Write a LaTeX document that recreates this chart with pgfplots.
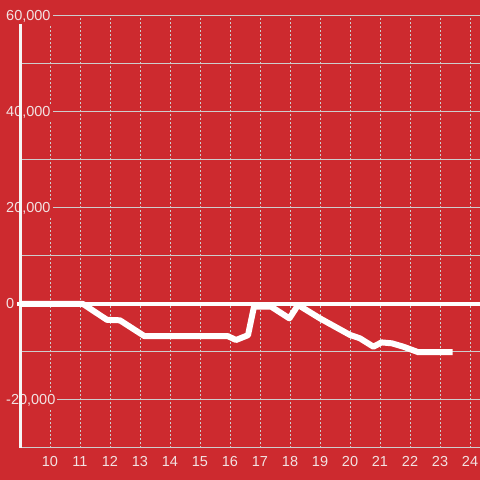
\documentclass[border=0pt]{standalone}
\usepackage{pgfplots}
\pgfplotsset{compat=1.18}
\usepackage{fontspec}
\setmainfont{Liberation Sans}
\definecolor{bgred}{RGB}{205,42,47}
\definecolor{lbl}{RGB}{242,226,226}
\definecolor{gridc}{RGB}{205,205,205}
\pgfdeclarelayer{background}
\pgfsetlayers{background,main}
\begin{document}
\begin{tikzpicture}[x=1pt,y=1pt]
\begin{axis}[
  scale only axis,
  width=460pt, height=432pt,
  xmin=9, xmax=24.3333,
  ymin=-30000, ymax=60000,
  clip=false,
  axis line style={draw=none},
  xtick={10,11,...,24},
  ytick={-20000,0,20000,40000,60000},
  minor ytick={-10000,10000,30000,50000},
  tick style={draw=none},
  major tick length=0pt, minor tick length=0pt,
  ymajorgrids, yminorgrids, xmajorgrids,
  y grid style={gridc, line width=1pt},
  minor y grid style={gridc, line width=1pt},
  x grid style={gridc, line width=1pt, dash pattern=on 2pt off 2pt},
  scaled y ticks=false,
  /pgf/number format/.cd, 1000 sep={,}, assume math mode=true,
  /pgfplots/.cd,
  ticklabel style={font=\fontsize{14.5}{16}\selectfont, text=lbl},
  yticklabel style={anchor=west, xshift=-16pt, fill=bgred, inner sep=2pt},
  xticklabel style={yshift=-5pt},
]
\draw[gridc, line width=1pt] (axis cs:9,-30000) -- (axis cs:24.3333,-30000);
\draw[white, line width=3.3pt] (axis cs:8.9,0) -- (axis cs:24.3333,0);
\draw[white!93!gray, line width=3pt] (axis cs:9,58333) -- (axis cs:9,-30000);
\addplot[white, line width=6pt, line join=round, line cap=butt] coordinates {
(9,0) (11.1,0) (11.9,-3300) (12.33,-3400) (13.15,-6700) (15.93,-6700)
(16.2,-7500) (16.6,-6500) (16.8,-550) (17.37,-550) (17.98,-3000)
(18.27,-200) (19,-3000) (20,-6450) (20.33,-7150) (20.78,-8900)
(21.05,-8000) (21.4,-8200) (21.78,-8900) (22.28,-10050) (23.42,-10050)
};
\coordinate (bl) at (axis cs:8.3333,-36667);
\coordinate (tr) at (axis cs:24.3333,63333);
\end{axis}
\begin{pgfonlayer}{background}
\fill[bgred] (bl) rectangle (tr);
\end{pgfonlayer}
\pgfresetboundingbox
\useasboundingbox (bl) rectangle (tr);
\end{tikzpicture}
\end{document}
